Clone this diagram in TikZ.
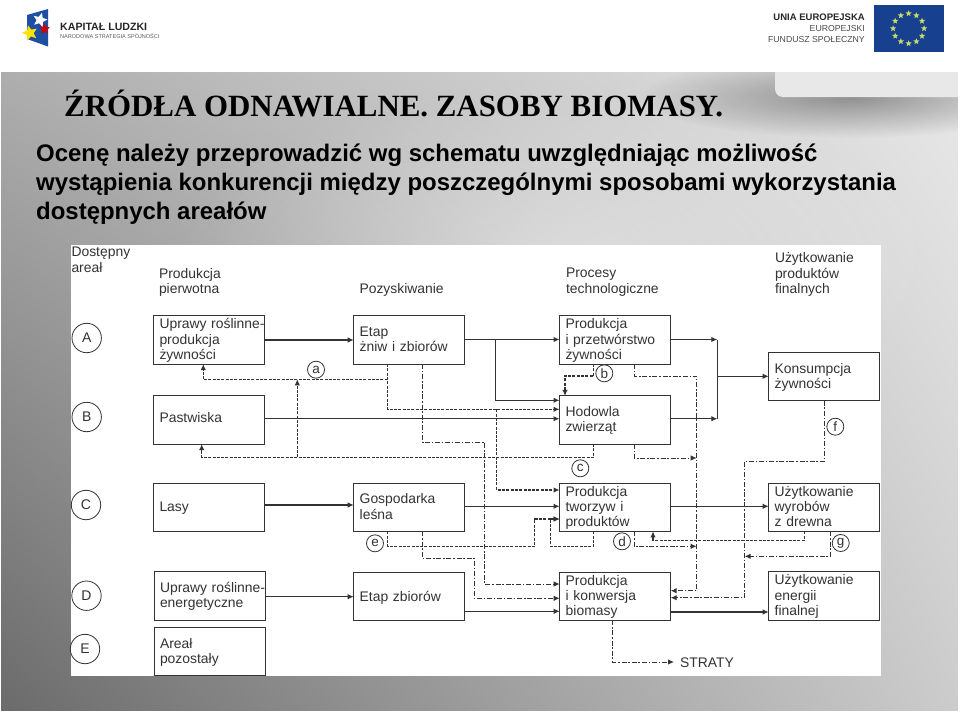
\documentclass[tikz,border=0pt]{standalone}
\usepackage{fontspec}
\setmainfont{Liberation Sans}
\newfontfamily\serifbold{Liberation Serif}
\usetikzlibrary{arrows.meta,shapes.geometric,fadings,shadings}
\tikzfading[name=softblob,inner color=transparent!0,outer color=transparent!100]
\definecolor{ink}{HTML}{333333}
\definecolor{euflag}{HTML}{17418F}
\definecolor{eustar}{HTML}{C9DA6A}
\definecolor{plblue}{HTML}{1E4FA3}
\tikzset{
  box/.style={draw=ink,line width=0.9pt,fill=white,anchor=west,inner ysep=0pt,inner xsep=0.5pt,outer sep=0pt,
    minimum width=111pt,minimum height=48.3pt,text width=110pt,align=left,text=ink,
    font=\fontsize{13.9}{15.4}\selectfont,
    execute at begin node={\leftskip=5.5pt\rightskip=-10pt plus 1fil\relax\rule{0pt}{11.5pt}},
    execute at end node={\rule[-3pt]{0pt}{3pt}}},
  bigc/.style={circle,draw=ink,line width=0.8pt,fill=white,minimum size=29.4pt,inner sep=0pt,outer sep=0pt,text=ink,font=\fontsize{14}{15}\selectfont},
  smallc/.style={circle,draw=ink,line width=0.8pt,fill=white,minimum size=17pt,inner sep=0pt,outer sep=0pt,text=ink,font=\fontsize{13.5}{15}\selectfont},
  head/.style={anchor=west,inner sep=0pt,outer sep=0pt,align=left,text=ink,font=\fontsize{13.9}{15.6}\selectfont},
  sol/.style={draw=ink,line width=1.1pt},
  dsh/.style={draw=ink,line width=1.1pt,dash pattern=on 3pt off 1.3pt},
  dsd/.style={draw=ink,line width=1.0pt,dash pattern=on 5pt off 1.8pt on 1.5pt off 1.8pt},
  tip/.style={-{Latex[length=6pt,width=5.5pt]}},
  eus/.style={star,star points=5,star point ratio=2.3,fill=eustar,minimum size=6.5pt,inner sep=0pt},
}
\begin{document}
\begin{tikzpicture}[x=1pt,y=-1pt]
\useasboundingbox (0,0) rectangle (960,712);
\fill[white] (0,0) rectangle (960,712);
% slide background
\shade[upper left=black!32,upper right=black!9,lower left=black!58,lower right=black!20] (1,72) rectangle (958,710);
\fill[white,opacity=.4,path fading=softblob] (180,90) rectangle (940,420);
\fill[black,opacity=.36,path fading=softblob] (640,55) rectangle (1060,138);
\fill[black!9,rounded corners=8pt] (775,62) rectangle (1000,97);
\fill[white] (958,50) rectangle (960,712);
\fill[white] (0,50) rectangle (960,72);
% logos
\fill[plblue] (27,15) -- (48,9) -- (48,46.5) -- (27,39) -- cycle;
\node[star,star points=5,star point ratio=2.2,fill=white,minimum size=15pt,inner sep=0pt,rotate=-15] (st1) at (40,20) {};
\node[star,star points=5,star point ratio=2.2,fill=yellow!85!orange,minimum size=16pt,inner sep=0pt,rotate=15] (st2) at (30,33) {};
\node[star,star points=5,star point ratio=2.0,fill=red!80!black,minimum size=11pt,inner sep=0pt] (st3) at (44.5,29) {};
\node[anchor=west,inner sep=0pt,text=black!85,font=\fontsize{10.6}{12}\selectfont\bfseries] (kl) at (60,27) {KAPITAŁ LUDZKI};
\node[anchor=west,inner sep=0pt,text=black!65,font=\fontsize{5.55}{7}\selectfont] (nss) at (60,36) {NARODOWA STRATEGIA SPÓJNOŚCI};
\node[anchor=east,inner sep=0pt,text=black!85,font=\fontsize{9.5}{11}\selectfont\bfseries] (ue1) at (865,17) {UNIA EUROPEJSKA};
\node[anchor=east,inner sep=0pt,text=black!70,font=\fontsize{8.7}{11}\selectfont] (ue2) at (865,28.5) {EUROPEJSKI};
\node[anchor=east,inner sep=0pt,text=black!70,font=\fontsize{8.7}{11}\selectfont] (ue3) at (865,40) {FUNDUSZ SPOŁECZNY};
\fill[euflag] (873.5,5.3) rectangle (943.7,51.7);
\foreach \k in {0,...,11}{\node[eus] (es\k) at ({908.6+15.5*cos(30*\k)},{28.5+15*sin(30*\k)}) {};}
% title and lead text
\node[anchor=base west,inner sep=0pt,text=black,font=\fontsize{30.9}{36}\selectfont\serifbold\bfseries] (title) at (64,116.7) {ŹRÓDŁA ODNAWIALNE. ZASOBY BIOMASY.};
\node[anchor=base west,inner sep=0pt,text=black,font=\fontsize{23.95}{29}\selectfont\bfseries] (l1) at (36,161) {Ocenę należy przeprowadzić wg schematu uwzględniając możliwość};
\node[anchor=base west,inner sep=0pt,text=black,font=\fontsize{23.95}{29}\selectfont\bfseries] (l2) at (36,190) {wystąpienia konkurencji między poszczególnymi sposobami wykorzystania};
\node[anchor=base west,inner sep=0pt,text=black,font=\fontsize{23.95}{29}\selectfont\bfseries] (l3) at (36,219) {dostępnych areałów};
% diagram panel
\fill[white] (71,245) rectangle (880.5,676);
% headers
\node[head] (hdost) at (71.5,259.5) {Dostępny\\areał};
\node[head] (hprod) at (159,282.5) {Produkcja\\pierwotna};
\node[head] (hpoz) at (359.5,290) {Pozyskiwanie};
\node[head] (hproc) at (566,282) {Procesy\\technologiczne};
\node[head] (huzyt) at (775,274.5) {Użytkowanie\\produktów\\finalnych};
% boxes
\node[box] (upr) at (153.5,340) {Uprawy roślinne-\\produkcja\\żywności};
\node[box] (past) at (153.5,420) {Pastwiska\vspace*{3pt}};
\node[box] (lasy) at (153.5,507.3) {Lasy};
\node[box] (uen) at (154,596) {Uprawy roślinne-\\energetyczne};
\node[box] (are) at (154,651.5) {Areał\\pozostały};
\node[box] (etap) at (353.7,340) {Etap\\żniw i zbiorów};
\node[box] (gosp) at (353.7,507.3) {Gospodarka\\leśna};
\node[box] (ezb) at (353.7,596.2) {\rule{0pt}{13.5pt}Etap zbiorów};
\node[box] (pzyw) at (559.5,340) {Produkcja\\i przetwórstwo\\żywności};
\node[box] (hod) at (559.5,420) {Hodowla\\zwierząt};
\node[box] (ptw) at (559.5,507.3) {Produkcja\\tworzyw i\\produktów};
\node[box] (pkon) at (559.7,596.2) {Produkcja\\i konwersja\\biomasy};
\node[box] (kons) at (768.7,376.5) {Konsumpcja\\żywności};
\node[box] (uwyr) at (768.7,507.3) {Użytkowanie\\wyrobów\\z drewna};
\node[box] (uen2) at (768.7,596) {Użytkowanie\\energii\\finalnej};
\node[anchor=west,inner sep=0pt,outer sep=0pt,text=ink,font=\fontsize{13.9}{15}\selectfont] (straty) at (680,663) {STRATY};
\coordinate (strin) at (674,662);
% horizontal and vertical guide lines
\foreach \n/\y in {h339/339.5,h340/340,h400/400.3,h419/418.7,h376/376.3,h505/505,h506/506.3,h597/596.7,h611/611.3,h612/612,h379/379.3,h409/409.3,h457/457.3,h490/490,hb376/376,h443/442.7,h584/584,h591/590.7,h458/458,h546/546.3,h461/461.3,h598/597.7,h556/556.3,h540/540.3,h519/519,h558/558,h599/598.3,h662/662}{\coordinate (\n) at (0,\y);}
\foreach \n/\x in {v388/387.7,v203/203.3,v297/297.3,v202/201.7,v594/593.7,v496/495.7,v497/496.7,v565/565,v422/422.5,v485/484.8,v634/634,v697/696.7,v825/824.7,v745/744.7,v830/830,v804/804.3,v653/653,v550/550.3,v535/534.8,v474/474,v613/612.7,v717/717.3}{\coordinate (\n) at (\x,0);}
% solid connectors
\draw[sol,tip] (upr.east |- h340) -- (etap.west |- h340);
\draw[sol,tip] (etap.east |- h339) -- (pzyw.west |- h339);
\draw[sol,tip] (v496 |- h339) -- (v496 |- h400) -- (hod.west |- h400);
\draw[sol,tip] (past.east |- h419) -- (hod.west |- h419);
\draw[sol,tip] (pzyw.east |- h339) -- (v717 |- h339);
\draw[sol,tip] (hod.east |- h419) -- (v717 |- h419);
\draw[sol] (v717 |- h339) -- (v717 |- h419);
\draw[sol,tip] (v717 |- h376) -- (kons.west |- h376);
\draw[sol,tip] (lasy.east |- h505) -- (gosp.west |- h505);
\draw[sol,tip] (gosp.east |- h506) -- (ptw.west |- h506);
\draw[sol,tip] (ptw.east |- h506) -- (uwyr.west |- h506);
\draw[sol,tip] (uen.east |- h597) -- (ezb.west |- h597);
\draw[sol,tip] (ezb.east |- h611) -- (pkon.west |- h611);
\draw[sol,tip] (pkon.east |- h612) -- (uen2.west |- h612);
% dashed connectors
\draw[dsh,tip] (v388 |- etap.south) -- (v388 |- h409) -- (hod.west |- h409);
\draw[dsh,tip] (v388 |- h379) -- (v203 |- h379) -- (v203 |- upr.south);
\draw[dsh,tip] (v297 |- h457) -- (v297 |- h379);
\draw[dsh,tip] (v594 |- hod.south) -- (v594 |- h457) -- (v202 |- h457) -- (v202 |- past.south);
\draw[dsh,tip] (v497 |- h409) -- (v497 |- h490) -- (ptw.west |- h490);
\draw[dsh,tip] (v594 |- pzyw.south) -- (v594 |- hb376) -- (v565 |- hb376) -- (v565 |- hod.north);
\draw[dsh,tip] (v804 |- uwyr.south) -- (v804 |- h540) -- (v653 |- h540) -- (v653 |- ptw.south);
\draw[dsh,tip] (v594 |- ptw.south) -- (v594 |- h546) -- (v550 |- h546) -- (v550 |- h519) -- (ptw.west |- h519);
\draw[dsh,tip] (v388 |- gosp.south) -- (v388 |- h546) -- (v535 |- h546) -- (v535 |- h519) -- (ptw.west |- h519);
% dash-dotted connectors
\draw[dsd,tip] (v422 |- etap.south) -- (v422 |- h443) -- (v485 |- h443) -- (v485 |- h584) -- (pkon.west |- h584);
\draw[dsd,tip] (v634 |- pzyw.south) -- (v634 |- hb376) -- (v697 |- hb376) -- (v697 |- h591) -- (pkon.east |- h591);
\draw[dsd,tip] (v634 |- hod.south) -- (v634 |- h458) -- (v697 |- h458);
\draw[dsd,tip] (v634 |- ptw.south) -- (v634 |- h546) -- (v697 |- h546);
\draw[dsd,tip] (v825 |- kons.south) -- (v825 |- h461) -- (v745 |- h461) -- (v745 |- h598) -- (pkon.east |- h598);
\draw[dsd,tip] (v830 |- uwyr.south) -- (v830 |- h556) -- (v745 |- h556);
\draw[dsd,tip] (v422 |- gosp.south) -- (v422 |- h558) -- (v474 |- h558) -- (v474 |- h599) -- (pkon.west |- h599);
\draw[dsd,tip] (v613 |- pkon.south) -- (v613 |- h662) -- (strin);
% row circles
\node[bigc] (ca) at (86.7,338) {A};
\node[bigc] (cb) at (86.7,417) {B};
\node[bigc] (cc) at (86,505) {C};
\node[bigc] (cd) at (86.5,595.7) {D};
\node[bigc] (ce) at (85,649) {E};
% small circles
\node[smallc] (sa) at (316,369.7) {a};
\node[smallc] (sb) at (604.3,373.3) {b};
\node[smallc] (sc) at (580.3,468.3) {c};
\node[smallc] (sd) at (622,541.3) {d};
\node[smallc] (se) at (375,543.3) {e};
\node[smallc] (sf) at (835.3,426.7) {f};
\node[smallc] (sg) at (840.7,543) {g};
\end{tikzpicture}
\end{document}
